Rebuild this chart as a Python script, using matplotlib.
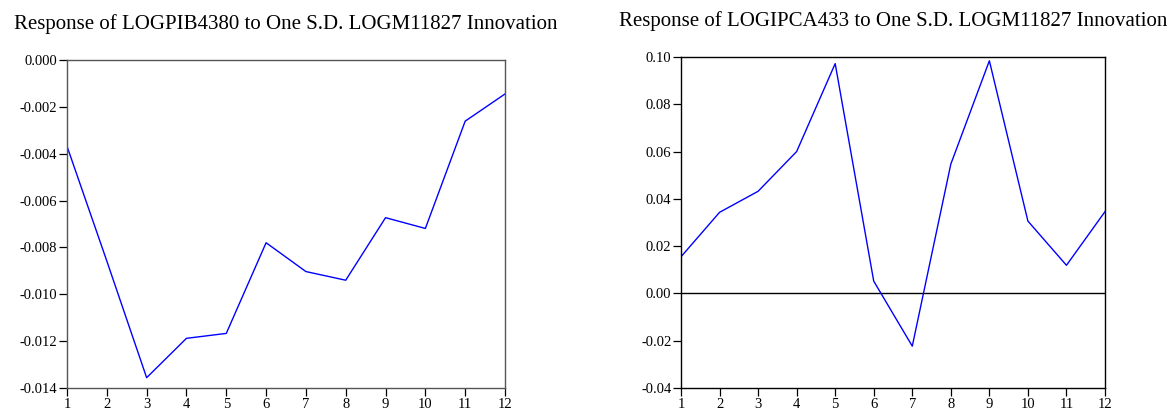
import matplotlib
matplotlib.use("Agg")
import matplotlib.pyplot as plt
import numpy as np

# Impulse responses to a one S.D. LOGM11827 shock, periods 1..12
periods = list(range(1, 13))
resp_pib = [-0.00368, -0.00858, -0.01356, -0.01188, -0.01167, -0.00780,
            -0.00903, -0.00940, -0.00673, -0.00719, -0.00261, -0.00145]
resp_ipca = [0.0155, 0.0343, 0.0432, 0.0600, 0.0972, 0.0052,
             -0.0223, 0.0547, 0.0984, 0.0306, 0.0119, 0.0346]

title_pib = "Response of LOGPIB4380 to One S.D. LOGM11827 Innovation"
title_ipca = "Response of LOGIPCA433 to One S.D. LOGM11827 Innovation"

pib_ticks = [0.000, -0.002, -0.004, -0.006, -0.008, -0.010, -0.012, -0.014]
ipca_ticks = [0.10, 0.08, 0.06, 0.04, 0.02, 0.00, -0.02, -0.04]

plt.rcParams['font.family'] = ['Liberation Serif', 'DejaVu Serif']

W, H = 1174, 412
fig = plt.figure(figsize=(W / 100, H / 100), dpi=100)


def make_axes(x0, x1, y0, y1):
    return fig.add_axes([x0 / W, 1 - y1 / H, (x1 - x0) / W, (y1 - y0) / H])


def style(ax, spine_color):
    for side in ['top', 'right', 'left', 'bottom']:
        ax.spines[side].set_color(spine_color)
        ax.spines[side].set_linewidth(1.0)
    ax.tick_params(axis='both', direction='out', length=6, width=0.9,
                   labelsize=10.5, colors='black', pad=1)
    ax.tick_params(top=False, right=False)
    ax.set_xlim(1, 12)
    ax.set_xticks(periods)
    ax.set_xticklabels([str(p) for p in periods])


ax1 = make_axes(67, 505, 60, 388)
ax1.plot(periods, resp_pib, color='#0000ff', lw=1.0)
ax1.set_ylim(-0.014, 0.0)
ax1.set_yticks(pib_ticks)
ax1.set_yticklabels([f"{t:.3f}" for t in pib_ticks])
style(ax1, '#555555')
ax1.set_title(title_pib, fontsize=15, pad=22)

ax2 = make_axes(681, 1105, 57, 388)
ax2.axhline(0, color='black', lw=1.0)
ax2.plot(periods, resp_ipca, color='#0000ff', lw=1.0)
ax2.set_ylim(-0.04, 0.10)
ax2.set_yticks(ipca_ticks)
ax2.set_yticklabels([f"{t:.2f}" for t in ipca_ticks])
style(ax2, 'black')
ax2.set_title(title_ipca, fontsize=15, pad=22)

fig.savefig("out.png", dpi=100, facecolor='white')
